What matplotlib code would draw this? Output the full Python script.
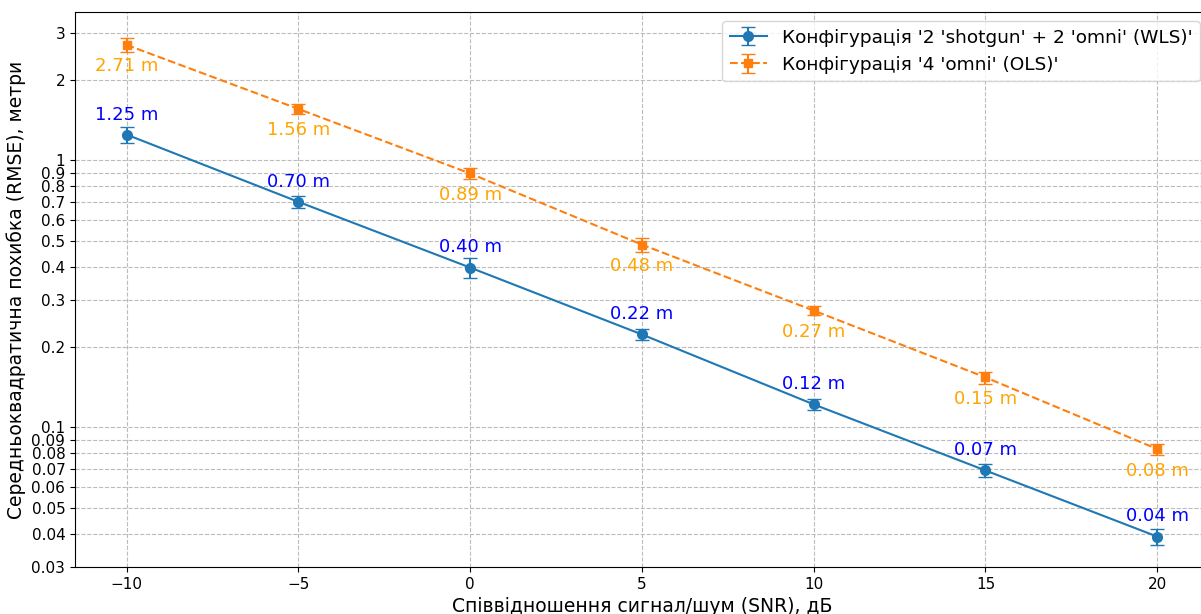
import matplotlib
matplotlib.use('Agg')
import matplotlib.pyplot as plt
from matplotlib.ticker import FixedLocator, FuncFormatter, NullLocator

# SNR sweep, dB
snr = [-10, -5, 0, 5, 10, 15, 20]

# config A: 2 shotgun + 2 omni, weighted LS
rmse_wls = [1.25, 0.70, 0.397, 0.223, 0.122, 0.069, 0.039]
err_wls = [0.083, 0.036, 0.033, 0.010, 0.006, 0.004, 0.0027]

# config B: 4 omni, ordinary LS
rmse_ols = [2.71, 1.56, 0.894, 0.484, 0.274, 0.154, 0.083]
err_ols = [0.17, 0.07, 0.04, 0.03, 0.01, 0.008, 0.004]

label_wls = "Конфігурація '2 'shotgun' + 2 'omni' (WLS)'"
label_ols = "Конфігурація '4 'omni' (OLS)'"

y_ticks = [0.03, 0.04, 0.05, 0.06, 0.07, 0.08, 0.09,
           0.1, 0.2, 0.3, 0.4, 0.5, 0.6, 0.7, 0.8, 0.9, 1, 2, 3]


def main():
    fig = plt.figure(figsize=(12.01, 6.14), dpi=100)
    ax = fig.add_axes([0.0625, 0.0765, 0.944, 0.904])

    ax.errorbar(snr, rmse_wls, yerr=err_wls, fmt='-o', color='tab:blue',
                capsize=5, markersize=7, linewidth=1.5, label=label_wls)
    ax.errorbar(snr, rmse_ols, yerr=err_ols, fmt='--s', color='tab:orange',
                capsize=5, markersize=6, linewidth=1.5, label=label_ols)

    # value labels: blue above, orange below
    for x, y in zip(snr, rmse_wls):
        ax.annotate(f'{y:.2f} m', (x, y), textcoords='offset points',
                    xytext=(0, 8), ha='center', va='bottom',
                    color='blue', fontsize=13)
    for x, y in zip(snr, rmse_ols):
        ax.annotate(f'{y:.2f} m', (x, y), textcoords='offset points',
                    xytext=(0, -9), ha='center', va='top',
                    color='orange', fontsize=13)

    ax.set_yscale('log')
    ax.set_xlim(-11.5, 21.5)
    ax.set_ylim(0.03, 3.6)
    ax.yaxis.set_major_locator(FixedLocator(y_ticks))
    ax.yaxis.set_minor_locator(NullLocator())
    ax.yaxis.set_major_formatter(FuncFormatter(lambda v, p: f'{v:g}'))
    ax.set_xticks([-10, -5, 0, 5, 10, 15, 20])
    ax.tick_params(labelsize=11)

    ax.set_xlabel('Співвідношення сигнал/шум (SNR), дБ', fontsize=13.5)
    ax.set_ylabel('Середньоквадратична похибка (RMSE), метри', fontsize=13.5)
    ax.grid(True, linestyle='--', color='#bbbbbb', linewidth=0.8)
    ax.legend(loc='upper right', fontsize=13.3)

    fig.savefig('out.png', dpi=100)
    plt.close(fig)


if __name__ == '__main__':
    main()
